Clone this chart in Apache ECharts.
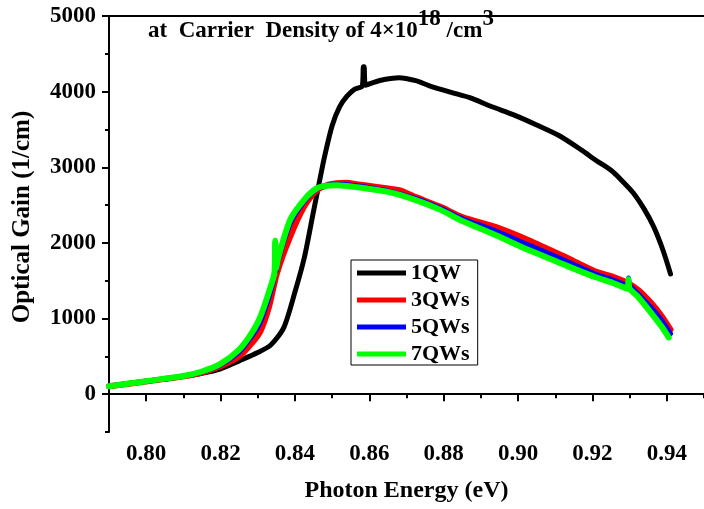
<!DOCTYPE html>
<html><head><meta charset="utf-8">
<script src="https://cdn.jsdelivr.net/npm/echarts@6/dist/echarts.min.js"></script>
<style>html,body{margin:0;padding:0;background:#fff}#c{width:704px;height:509px}</style>
</head><body><div id="c"></div>
<script>
const xMajor = [0.80, 0.82, 0.84, 0.86, 0.88, 0.90, 0.92, 0.94];
const xMinor = [0.79, 0.81, 0.83, 0.85, 0.87, 0.89, 0.91, 0.93, 0.95];
const yMajor = [0, 1000, 2000, 3000, 4000, 5000];
const yMinor = [-500, 500, 1500, 2500, 3500, 4500];
const seriesNames = ['1QW', '3QWs', '5QWs', '7QWs'];
const seriesColors = ['#000000', '#ff0000', '#0000ff', '#00ff00'];

// 1QW
const e1 = [0.79,0.80,0.81,0.815,0.82,0.825,0.83,0.8335,0.837,0.840,0.8425,0.845,0.8465,0.848,0.850,0.852,0.854,0.856,0.8581,0.8584,0.8586,0.8590,0.861,0.864,0.868,0.8725,0.876,0.882,0.887,0.893,0.899,0.905,0.911,0.917,0.921,0.925,0.928,0.931,0.934,0.9365,0.939,0.941];
const g1 = [105,170,235,275,335,440,550,650,880,1350,1800,2420,2790,3150,3550,3800,3940,4030,4075,4330,4330,4085,4120,4160,4185,4145,4080,3990,3920,3800,3690,3560,3420,3230,3090,2960,2820,2660,2440,2210,1900,1590];
// 3QWs
const e2 = [0.79,0.80,0.81,0.815,0.82,0.825,0.8285,0.8307,0.833,0.8352,0.8387,0.8424,0.8459,0.849,0.8512,0.854,0.8565,0.862,0.868,0.8725,0.879,0.885,0.8939,0.9027,0.912,0.9205,0.925,0.9293,0.9325,0.9357,0.9385,0.941];
const g2 = [105,168,235,285,370,500,680,830,1150,1605,2080,2474,2697,2770,2790,2795,2776,2740,2697,2605,2480,2342,2211,2039,1830,1630,1560,1474,1370,1211,1040,855];
// 5QWs
const e3 = [0.79,0.80,0.81,0.815,0.82,0.825,0.828,0.8305,0.833,0.8345,0.8347,0.8349,0.8356,0.8387,0.8424,0.8459,0.849,0.8512,0.8565,0.8653,0.8725,0.879,0.885,0.8939,0.9027,0.912,0.9205,0.925,0.9294,0.9297,0.9300,0.932,0.9357,0.9385,0.941];
const g3 = [105,170,238,292,385,555,740,930,1280,1570,2010,1620,1780,2250,2540,2715,2765,2775,2757,2685,2585,2460,2320,2160,1975,1780,1595,1520,1440,1535,1440,1340,1150,980,800];
// 7QWs
const e4 = [0.79,0.80,0.81,0.815,0.82,0.825,0.828,0.8305,0.833,0.8345,0.8347,0.8349,0.8356,0.8387,0.8424,0.8459,0.8485,0.8512,0.8565,0.8653,0.8725,0.879,0.885,0.8939,0.9027,0.912,0.9205,0.9255,0.9294,0.9297,0.9300,0.932,0.9357,0.9385,0.9405];
const g4 = [105,172,240,300,400,590,780,1000,1350,1610,2030,1660,1820,2303,2566,2724,2755,2763,2737,2671,2566,2440,2290,2105,1908,1720,1553,1470,1395,1520,1395,1300,1079,900,750];

const energies = [e1, e2, e3, e4];
const gains = [g1, g2, g3, g4];
const widths = [5, 6, 5, 6];

const FF = '"Liberation Serif", "Times New Roman", serif';
const txt = (size) => ({fontFamily: FF, fontWeight: 'bold', fontSize: size, color: '#000'});
const axisLS = {color: '#000', width: 2};

const chart = echarts.init(document.getElementById('c'), null, {renderer: 'canvas'});
chart.setOption({
  animation: false,
  backgroundColor: '#fff',
  grid: {left: 109, top: 16, width: 600, height: 416, containLabel: false},
  title: {
    left: 148, top: 8, padding: 0, z: 10,
    text: '{a|at  Carrier  Density of 4×10}{s|18}{a| /cm}{s|3}',
    textStyle: {
      fontFamily: FF, fontWeight: 'bold', fontSize: 23, color: '#000',
      rich: {
        a: Object.assign(txt(23), {verticalAlign: 'bottom', lineHeight: 35}),
        s: Object.assign(txt(23), {verticalAlign: 'top', lineHeight: 24})
      }
    }
  },
  legend: {
    orient: 'vertical', left: 351, top: 260,
    padding: [2, 8, 0, 6], itemGap: 5, itemWidth: 49, itemHeight: 5,
    icon: 'rect', borderColor: '#000', borderWidth: 1, borderRadius: 0,
    backgroundColor: '#fff',
    textStyle: Object.assign(txt(22), {lineHeight: 20}),
    data: seriesNames
  },
  xAxis: [
    {type: 'value', min: 0.79, max: 0.95, position: 'bottom',
     axisLine: {show: true, lineStyle: axisLS},
     axisTick: {show: true, customValues: xMajor, length: 7, lineStyle: axisLS},
     axisLabel: Object.assign(txt(23), {customValues: xMajor, margin: 11, formatter: v => v.toFixed(2)}),
     splitLine: {show: false},
     name: 'Photon Energy (eV)', nameLocation: 'middle', nameGap: 47,
     nameTextStyle: txt(24)},
    {type: 'value', min: 0.79, max: 0.95, position: 'bottom',
     axisLine: {show: false},
     axisTick: {show: true, customValues: xMinor, length: 4, lineStyle: axisLS},
     axisLabel: {show: false}, splitLine: {show: false}},
    {type: 'value', min: 0.79, max: 0.95, position: 'top',
     axisLine: {show: true, lineStyle: axisLS},
     axisTick: {show: false}, axisLabel: {show: false}, splitLine: {show: false}}
  ],
  yAxis: [
    {type: 'value', min: -500, max: 5000, position: 'left',
     axisLine: {show: true, lineStyle: axisLS},
     axisTick: {show: true, customValues: yMajor, length: 7, lineStyle: axisLS},
     axisLabel: Object.assign(txt(23), {customValues: yMajor, margin: 13, formatter: v => String(v)}),
     splitLine: {show: false},
     name: 'Optical Gain (1/cm)', nameLocation: 'middle', nameGap: 74, nameRotate: 90,
     nameTextStyle: Object.assign(txt(25), {padding: [0, 0, 0, 14]})},
    {type: 'value', min: -500, max: 5000, position: 'left',
     axisLine: {show: false},
     axisTick: {show: true, customValues: yMinor, length: 4, lineStyle: axisLS},
     axisLabel: {show: false}, splitLine: {show: false}}
  ],
  series: seriesNames.map((name, k) => ({
    name: name, type: 'line', xAxisIndex: 0, yAxisIndex: 0,
    showSymbol: false, symbol: 'none', smooth: 0.25,
    color: seriesColors[k],
    lineStyle: {color: seriesColors[k], width: widths[k], cap: 'round', join: 'round'},
    data: energies[k].map((x, i) => [x, gains[k][i]])
  }))
});
</script></body></html>
